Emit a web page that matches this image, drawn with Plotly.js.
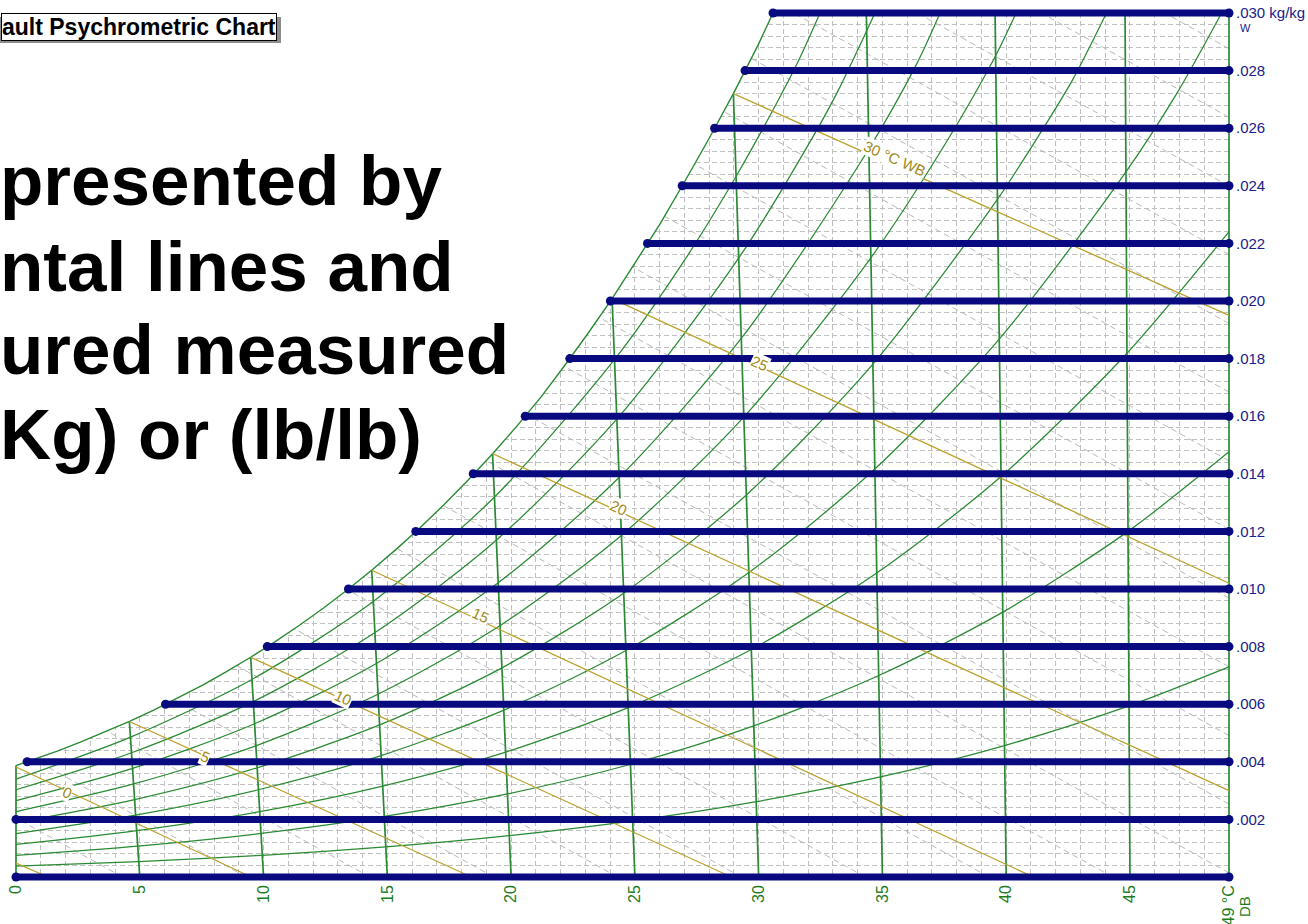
<!DOCTYPE html>
<html>
<head>
<meta charset="utf-8">
<script src="https://cdn.plot.ly/plotly-3.0.1.min.js"></script>
<style>
  html, body { margin: 0; padding: 0; background: #ffffff; }
  #chart { width: 1308px; height: 924px; }
</style>
</head>
<body>
<div id="chart"></div>
<script>
// ---- axis ticks ----
const dbTickVals = [0, 5, 10, 15, 20, 25, 30, 35, 40, 45, 49];
const dbTickText = ['0', '5', '10', '15', '20', '25', '30', '35', '40', '45', '49 °C'];
const wTickVals = [0.002, 0.004, 0.006, 0.008, 0.010, 0.012, 0.014, 0.016, 0.018, 0.020, 0.022, 0.024, 0.026, 0.028, 0.030];
const wTickText = ['.002', '.004', '.006', '.008', '.010', '.012', '.014', '.016', '.018', '.020', '.022', '.024', '.026', '.028', '.030 kg/kg'];

// ---- saturation curve (dry-bulb axis position, humidity ratio kg/kg) ----
const satX = [0, 0.659, 1.641, 2.623, 3.604, 4.584, 5.564, 6.543, 7.522, 8.501, 9.479, 10.457, 11.435, 12.412, 13.389, 14.366, 15.344, 16.321, 17.298, 18.276, 19.254, 20.233, 21.212, 22.15, 23.11, 24.08, 25.04, 26.03, 26.99, 27.98, 28.98, 29.97, 30.58];
const satW = [0.00387, 0.00406, 0.004364, 0.004689, 0.005034, 0.005403, 0.005796, 0.006213, 0.006657, 0.007129, 0.007631, 0.008165, 0.008732, 0.009333, 0.009972, 0.010649, 0.011367, 0.012129, 0.012936, 0.013791, 0.014696, 0.015656, 0.016670, 0.017744, 0.018880, 0.020081, 0.021352, 0.022696, 0.024115, 0.025616, 0.027202, 0.028876, 0.030];

// ---- constant humidity-ratio lines ----
const wLevels = [0, 0.002, 0.004, 0.006, 0.008, 0.010, 0.012, 0.014, 0.016, 0.018, 0.020, 0.022, 0.024, 0.026, 0.028, 0.030];
const wStartX = [0, 0, 0.45, 6.04, 10.15, 13.43, 16.15, 18.47, 20.57, 22.37, 24.01, 25.51, 26.91, 28.22, 29.45, 30.58];

// ---- dry-bulb lines: foot on W = 0, head on the saturation curve or top edge ----
const dbLineFoot = [0, 5, 10, 15, 20, 25, 30, 35, 40, 45, 49];
const dbLineHeadX = [0, 4.58, 9.48, 14.37, 19.25, 24.08, 28.98, 34.35, 39.55, 44.80, 49];
const dbLineHeadW = [0.00387, 0.0054, 0.00763, 0.01065, 0.0147, 0.02008, 0.0272, 0.030, 0.030, 0.030, 0.030];

// ---- relative humidity curves 10 % ... 90 % ----
const rh10X = [0, 4.96, 9.95, 14.94, 19.93, 24.92, 29.91, 34.92, 39.93, 44.96, 49];
const rh10W = [0.00038, 0.000536, 0.000755, 0.001049, 0.001439, 0.001951, 0.002617, 0.003473, 0.004564, 0.005943, 0.007294];
const rh20X = [0, 4.92, 9.90, 14.88, 19.85, 24.84, 29.83, 34.83, 39.86, 44.92, 49];
const rh20W = [0.00075, 0.001073, 0.001511, 0.002101, 0.002885, 0.003915, 0.005256, 0.006986, 0.009196, 0.012001, 0.014762];
const rh30X = [0, 4.88, 9.85, 14.81, 19.78, 24.75, 29.74, 34.74, 39.78, 44.87, 49];
const rh30W = [0.00113, 0.001611, 0.00227, 0.003157, 0.004337, 0.005891, 0.007918, 0.010538, 0.013897, 0.018177, 0.022409];
const rh40X = [0, 4.83, 9.79, 14.75, 19.71, 24.67, 29.65, 34.65, 39.71, 44.83, 46.90, 48.70];
const rh40W = [0.00151, 0.00215, 0.00303, 0.004216, 0.005796, 0.00788, 0.010602, 0.01413, 0.018669, 0.024475, 0.027218, 0.030];
const rh50X = [0, 4.79, 9.74, 14.69, 19.63, 24.59, 29.56, 34.57, 39.63, 41.68, 42.71, 44.05];
const rh50W = [0.00189, 0.00269, 0.003792, 0.00528, 0.007262, 0.009881, 0.01331, 0.017763, 0.023512, 0.026247, 0.02772, 0.030];
const rh60X = [0, 4.75, 9.69, 14.62, 19.56, 24.50, 29.47, 34.48, 37.51, 39.52, 40.40];
const rh60W = [0.00227, 0.003231, 0.004556, 0.006346, 0.008735, 0.011895, 0.01604, 0.021438, 0.025417, 0.02843, 0.030];
const rh70X = [0, 4.71, 9.64, 14.56, 19.48, 24.42, 29.38, 34.36, 36.37, 37.33];
const rh70W = [0.00265, 0.003772, 0.005322, 0.007416, 0.010215, 0.013922, 0.018794, 0.025156, 0.028207, 0.030];
const rh80X = [0, 4.67, 9.58, 14.50, 19.41, 24.33, 29.26, 32.22, 33.20, 34.70];
const rh80W = [0.00303, 0.004315, 0.00609, 0.00849, 0.011702, 0.015962, 0.021573, 0.025742, 0.027287, 0.030];
const rh90X = [0, 4.63, 9.53, 14.43, 19.33, 24.22, 27.16, 29.12, 30.59, 31.57, 32.48];
const rh90W = [0.0034, 0.004859, 0.00686, 0.009568, 0.013195, 0.018015, 0.02162, 0.024375, 0.026647, 0.02827, 0.030];

// ---- wet-bulb lines ----
const wbTemps = [-5, 0, 5, 10, 15, 20, 25, 30];
const wbStartX = [0, 0, 4.58, 9.48, 14.37, 19.25, 24.08, 28.98];
const wbStartW = [0.00048, 0.00382, 0.0054, 0.00763, 0.01065, 0.0147, 0.02008, 0.0272];
const wbEndX = [1.3, 9.5, 18.4, 28.9, 41.1, 49, 49, 49];
const wbEndW = [0, 0, 0, 0, 0, 0.0030, 0.0102, 0.0195];
const wbLabelX = [null, 2.06, 7.63, 13.21, 18.78, 24.32, 30.05, 35.51];
const wbLabelW = [null, 0.002917, 0.004167, 0.00625, 0.009063, 0.012813, 0.017813, 0.024965];

// ---- faint dashed diagonals (lower-right end, upper-left end) ----
const diagLowX = [4.3, 9.3, 14.3, 19.3, 24.3, 29.3, 34.3, 39.3, 44.3, 49, 49, 49, 49, 49, 49, 49, 49, 49, 49, 49, 49, 49];
const diagLowW = [0, 0, 0, 0, 0, 0, 0, 0, 0, 0.00014, 0.00253, 0.00491, 0.00730, 0.00968, 0.01207, 0.01445, 0.01684, 0.01922, 0.02161, 0.02399, 0.02638, 0.02876];
const diagHighX = [0, 0.74, 3.68, 6.40, 8.91, 11.24, 13.39, 15.39, 17.26, 18.99, 20.63, 22.14, 23.56, 24.91, 26.20, 27.41, 28.59, 29.70, 31.41, 36.41, 41.41, 46.41];
const diagHighW = [0.00205, 0.00408, 0.00506, 0.00615, 0.00734, 0.00862, 0.00997, 0.01140, 0.01290, 0.01446, 0.01606, 0.01773, 0.01943, 0.02118, 0.02294, 0.02475, 0.02658, 0.02843, 0.030, 0.030, 0.030, 0.030];

// ---- caption texts ----
const boxCaption = 'ault Psychrometric Chart';
const bigLines = ['presented by', 'ntal lines and', 'ured measured', 'Kg) or (lb/lb)'];

// ---- page geometry ----
const W = 1308, H = 924;
const M = { l: 6, r: 60, t: 3, b: 30 };
const PW = W - M.l - M.r, PH = H - M.t - M.b;
const FR = { left: 16, right: 1229, top: 13, bottom: 877 };   // chart frame in px
const X_MAX = dbTickVals[dbTickVals.length - 1];
const W_MAX = wTickVals[wTickVals.length - 1];
const kx = (FR.right - FR.left) / X_MAX;
const ky = (FR.bottom - FR.top) / W_MAX;
const pxX = px => (px - M.l) / PW;
const pxY = py => (M.t + PH - py) / PH;

const FONT = 'Liberation Sans, Arial, Helvetica, sans-serif';
const GREEN = '#2a8a33';
const GOLD = '#bba22c';
const NAVY = '#0a0a80';
const GRID = '#c0c0c0';

const traces = [];

// white mask hides the grid above the saturation curve
traces.push({
  x: satX.concat([0]), y: satW.concat([W_MAX]),
  xaxis: 'x', yaxis: 'y', mode: 'lines', fill: 'toself',
  fillcolor: '#ffffff', line: { width: 0, color: '#ffffff' }, hoverinfo: 'skip'
});

// faint dashed diagonals
const dgx = [], dgy = [];
diagLowX.forEach((x, i) => { dgx.push(x, diagHighX[i], null); dgy.push(diagLowW[i], diagHighW[i], null); });
traces.push({ x: dgx, y: dgy, xaxis: 'x2', yaxis: 'y2', mode: 'lines',
  line: { color: '#b9b9b9', width: 1, dash: '6px,4px' }, hoverinfo: 'skip' });

// dry-bulb lines
const dbx = [], dby = [];
dbLineFoot.forEach((t, i) => { dbx.push(t, dbLineHeadX[i], null); dby.push(0, dbLineHeadW[i], null); });
traces.push({ x: dbx, y: dby, xaxis: 'x2', yaxis: 'y2', mode: 'lines',
  line: { color: GREEN, width: 1.7 }, hoverinfo: 'skip' });

// relative humidity curves
[[rh10X, rh10W], [rh20X, rh20W], [rh30X, rh30W], [rh40X, rh40W], [rh50X, rh50W],
 [rh60X, rh60W], [rh70X, rh70W], [rh80X, rh80W], [rh90X, rh90W]].forEach(([xs, ws]) => {
  traces.push({ x: xs, y: ws, xaxis: 'x2', yaxis: 'y2', mode: 'lines',
    line: { color: GREEN, width: 1.25, shape: 'spline', smoothing: 0.8 }, hoverinfo: 'skip' });
});

// saturation curve
traces.push({ x: satX, y: satW, xaxis: 'x2', yaxis: 'y2', mode: 'lines',
  line: { color: GREEN, width: 1.4 }, hoverinfo: 'skip' });

// wet-bulb lines
const wbx = [], wby = [];
wbTemps.forEach((t, i) => { wbx.push(wbStartX[i], wbEndX[i], null); wby.push(wbStartW[i], wbEndW[i], null); });
traces.push({ x: wbx, y: wby, xaxis: 'x2', yaxis: 'y2', mode: 'lines',
  line: { color: GOLD, width: 1.3 }, hoverinfo: 'skip' });

// humidity-ratio lines (thick, dot at each end)
const hx = [], hy = [];
wLevels.forEach((w, i) => { hx.push(wStartX[i], X_MAX, null); hy.push(w, w, null); });
traces.push({ x: hx, y: hy, xaxis: 'x2', yaxis: 'y2', mode: 'lines+markers',
  line: { color: NAVY, width: 7 }, marker: { color: NAVY, size: 9 }, hoverinfo: 'skip' });

// ---- annotations ----
const annotations = [];

// wet-bulb labels along their lines
wbTemps.forEach((t, i) => {
  if (wbLabelX[i] === null) return;
  const ang = Math.atan2((wbStartW[i] - wbEndW[i]) * ky, (wbEndX[i] - wbStartX[i]) * kx) * 180 / Math.PI;
  annotations.push({
    xref: 'x2', yref: 'y2', x: wbLabelX[i], y: wbLabelW[i],
    text: i === wbTemps.length - 1 ? t + ' °C WB' : String(t),
    showarrow: false, textangle: ang, bgcolor: '#ffffff', borderpad: 0,
    font: { family: FONT, size: 15, color: '#a08a18' }
  });
});

// unit line under the top W label
annotations.push({
  xref: 'x', yref: 'y', x: X_MAX, y: W_MAX, xshift: 16, yshift: -15,
  text: 'W', showarrow: false, xanchor: 'center', yanchor: 'middle',
  font: { family: FONT, size: 11, color: '#20208a' }
});
// "DB" beside the last dry-bulb tick label
annotations.push({
  xref: 'x', yref: 'y', x: X_MAX, y: 0, xshift: 15, yshift: -30,
  text: 'DB', showarrow: false, textangle: -90, xanchor: 'center', yanchor: 'middle',
  font: { family: FONT, size: 15, color: '#1e7b1e' }
});

// caption box
annotations.push({
  xref: 'paper', yref: 'paper', x: pxX(277), y: pxY(13), xanchor: 'right', yanchor: 'top',
  text: '<b>' + boxCaption + '</b>', showarrow: false, bgcolor: '#ffffff', bordercolor: '#000000',
  borderwidth: 1, borderpad: 0, font: { family: FONT, size: 23, color: '#000000' }
});

// large overlay text
const bigCenters = [181, 266, 349, 434];
bigLines.forEach((s, i) => {
  annotations.push({
    xref: 'paper', yref: 'paper', x: pxX(-2), y: pxY(bigCenters[i]), xanchor: 'left', yanchor: 'middle',
    text: '<b>' + s + '</b>', showarrow: false,
    font: { family: FONT, size: 71, color: '#000000' }
  });
});

// drop shadow of the caption box
const shapes = [{
  type: 'rect', xref: 'paper', yref: 'paper', layer: 'above',
  x0: pxX(-10), x1: pxX(281), y0: pxY(43), y1: pxY(17),
  fillcolor: '#8c8c8c', line: { width: 0 }
}];

const gridStyle = { showgrid: true, gridcolor: GRID, gridwidth: 1, griddash: '5px,3px' };

const layout = {
  width: W, height: H,
  margin: M,
  paper_bgcolor: '#ffffff', plot_bgcolor: 'rgba(0,0,0,0)',
  showlegend: false, hovermode: false,
  xaxis: Object.assign({
    domain: [pxX(FR.left), pxX(FR.right)], range: [0, X_MAX],
    tickmode: 'array', tickvals: dbTickVals, ticktext: dbTickText, tickangle: -90,
    ticks: '', ticklabelstandoff: 4,
    tickfont: { family: FONT, size: 16, color: '#1e7b1e' },
    zeroline: false, showline: false, fixedrange: true, anchor: 'y',
    minor: Object.assign({ tickmode: 'linear', tick0: 0, dtick: 1, ticks: '' }, gridStyle)
  }, gridStyle),
  yaxis: Object.assign({
    domain: [pxY(FR.bottom), pxY(FR.top)], range: [0, W_MAX], side: 'right',
    tickmode: 'array', tickvals: wTickVals, ticktext: wTickText,
    ticks: '', ticklabelstandoff: 6,
    tickfont: { family: FONT, size: 15, color: '#20208a' },
    zeroline: false, showline: false, fixedrange: true, anchor: 'x',
    minor: Object.assign({ tickmode: 'linear', tick0: 0, dtick: 0.0004, ticks: '' }, gridStyle)
  }, gridStyle),
  xaxis2: {
    domain: [0, 1], range: [(M.l - FR.left) / kx, (M.l + PW - FR.left) / kx],
    visible: false, fixedrange: true, anchor: 'y2'
  },
  yaxis2: {
    domain: [0, 1], range: [(FR.bottom - (M.t + PH)) / ky, (FR.bottom - M.t) / ky],
    visible: false, fixedrange: true, anchor: 'x2'
  },
  shapes: shapes,
  annotations: annotations
};

Plotly.newPlot('chart', traces, layout, { displayModeBar: false, staticPlot: true });
</script>
</body>
</html>
